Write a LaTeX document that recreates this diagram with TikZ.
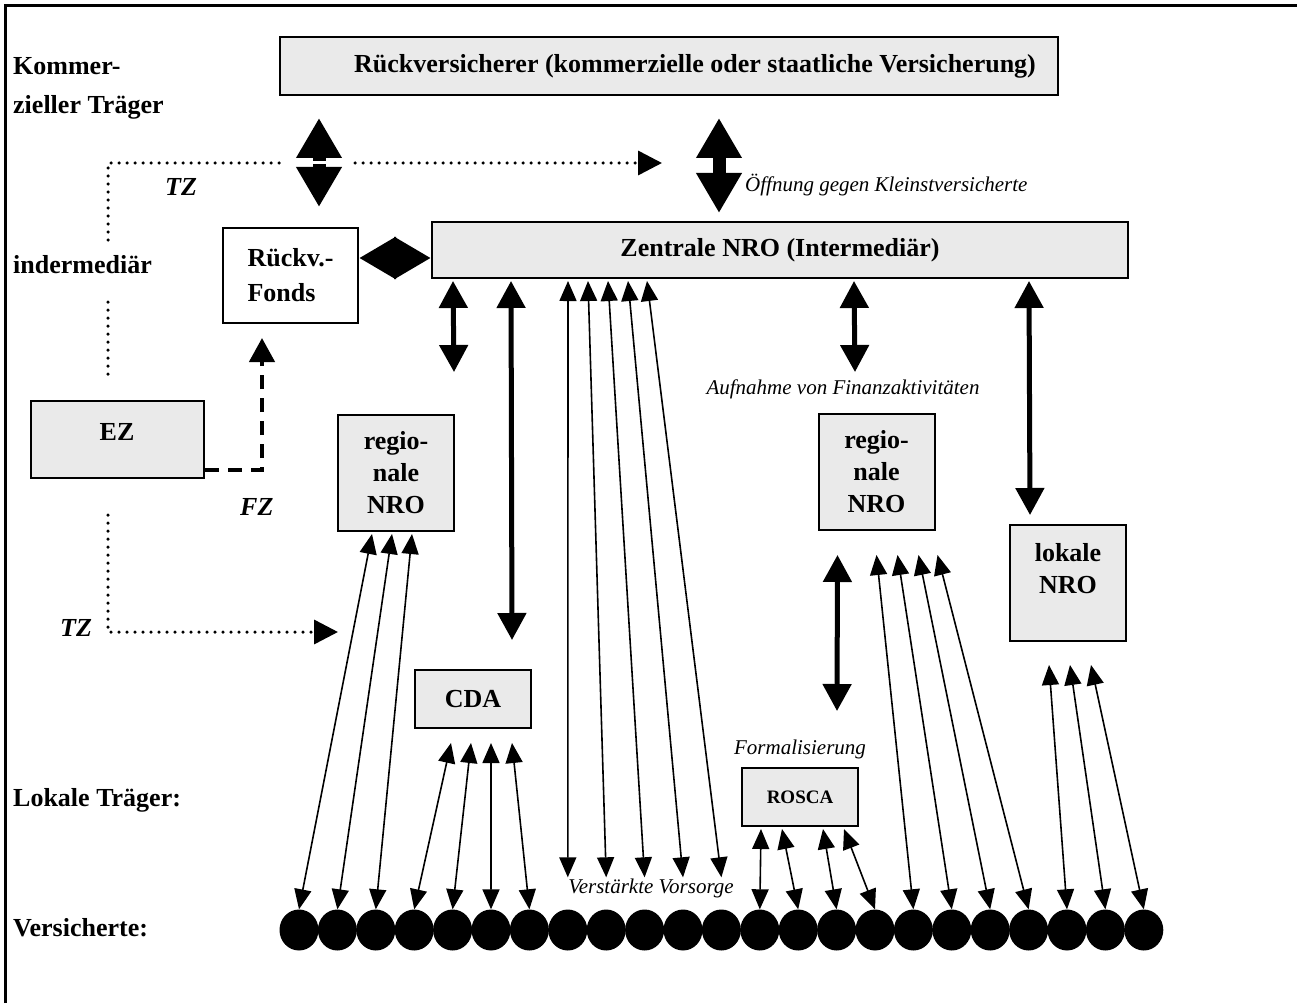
\documentclass[tikz,border=0pt]{standalone}
\usepackage{fontspec}
\setmainfont{Liberation Serif}
\usetikzlibrary{arrows.meta,shapes.geometric}
\definecolor{boxgray}{HTML}{EAEAEA}
\begin{document}
\begin{tikzpicture}[x=1pt,y=-1pt,
  nbox/.style={draw=black, line width=2pt, fill=boxgray, inner sep=0pt, align=center,
    font=\fontsize{26}{32}\selectfont\bfseries},
  lab/.style={font=\fontsize{26}{32}\selectfont\bfseries, inner sep=0pt, anchor=base west},
  btxt/.style={font=\fontsize{26}{32}\selectfont\bfseries, inner sep=0pt, align=center},
  bital/.style={font=\fontsize{26}{32}\selectfont\bfseries\itshape, inner sep=0pt, anchor=base west},
  ital/.style={font=\fontsize{21}{25}\selectfont\itshape, inner sep=0pt, anchor=base},
  circ/.style={ellipse, fill=black, inner sep=0pt, minimum width=39pt, minimum height=41pt},
  thinarr/.style={line width=1.6pt, {Triangle[length=20pt,width=17pt]}-{Triangle[length=20pt,width=17pt]}},
  midarr/.style={line width=5pt, {Triangle[length=27pt,width=28pt]}-{Triangle[length=27pt,width=28pt]}},
  bigarr/.style={line width=13pt, {Triangle[length=40pt,width=43pt]}-{Triangle[length=40pt,width=43pt]}},
  bigharr/.style={line width=13pt, {Triangle[length=37pt,width=40pt]}-{Triangle[length=37pt,width=40pt]}},
  dotline/.style={line width=3.5pt, line cap=round, dash pattern=on 0pt off 8pt},
  dashline/.style={line width=4.5pt, dash pattern=on 14pt off 9pt},
  tiparr/.style={-{Triangle[length=24pt,width=24pt]}}
]
\useasboundingbox (0,0) rectangle (1297,1003);
% frame
\draw[line width=3pt] (5,1003) -- (5,6) -- (1297,6);

% left labels
\node[lab] (kom) at (13,75) {Kommer-};
\node[lab] (zie) at (13,114) {zieller Träger};
\node[lab] (ind) at (13,273) {indermediär};
\node[lab] (lok) at (13,806) {Lokale Träger:};
\node[lab] (ver) at (13,936) {Versicherte:};

% boxes
\node[nbox, minimum width=778pt, minimum height=58pt] (rv) at (669,66) {};
\node[btxt] (rvt) at (695,66) {Rückversicherer (kommerzielle oder staatliche Versicherung)};
\node[nbox, minimum width=696pt, minimum height=56pt] (zen) at (780,250)
  {Zentrale NRO (Intermediär)};
\node[nbox, fill=white, minimum width=135pt, minimum height=95pt, align=left,
  font=\fontsize{26}{35}\selectfont\bfseries] (rf) at (290.5,275.5) {Rückv.-\\Fonds};
\node[nbox, minimum width=173pt, minimum height=77pt] (ez) at (117.5,439.5) {};
\node[lab, anchor=base] (ezt) at (117,440) {EZ};
\node[nbox, minimum width=116pt, minimum height=116pt] (rl) at (396,473) {regio-\\nale\\NRO};
\node[nbox, minimum width=116pt, minimum height=116pt] (rr) at (876.5,472) {regio-\\nale\\NRO};
\node[nbox, minimum width=116pt, minimum height=116pt] (lo) at (1068,583) {};
\node[btxt] (lot) at (1068,569) {lokale\\NRO};
\node[nbox, minimum width=116pt, minimum height=58pt] (cda) at (473,699) {CDA};
\node[nbox, minimum width=116pt, minimum height=58pt, font=\fontsize{19}{23}\selectfont\bfseries] (ros) at (800,797) {ROSCA};

% insured persons
\foreach \i in {0,...,22} \node[circ] (p\i) at ({299+38.4*\i},930) {};

% italic labels
\node[ital, anchor=base west] (off) at (745,191) {Öffnung gegen Kleinstversicherte};
\node[ital] (auf) at (843,394) {Aufnahme von Finanzaktivitäten};
\node[ital] (form) at (800,754) {Formalisierung};
\node[ital] (vv) at (651,893) {Verstärkte Vorsorge};
\node[bital] (tz1) at (165,195) {TZ};
\node[bital] (tz2) at (60,636) {TZ};
\node[bital] (fz) at (240,515) {FZ};

% dotted TZ lines
\coordinate (d1a) at (108,240);
\coordinate (d1b) at (108,163);
\coordinate (d1c) at (283,163);
\coordinate (d1d) at (355,163);
\coordinate (d1e) at (662,163);
\draw[dotline] (d1a) -- (d1b) -- (d1c);
\draw[dotline, tiparr] (d1d) -- (d1e);
\coordinate (d2a) at (108,302);
\coordinate (d2b) at (108,378);
\draw[dotline] (d2a) -- (d2b);
\coordinate (d3a) at (108,515);
\coordinate (d3b) at (108,632);
\coordinate (d3c) at (338,632);
\draw[dotline, tiparr] (d3a) -- (d3b) -- (d3c);

% dashed FZ
\coordinate (fzc) at (262,470);
\coordinate (fze) at (262,338);
\draw[dashline, -{Triangle[length=24pt,width=25pt]}] ([yshift=-30.5pt]ez.east) -- (fzc) -- (fze);

% big arrows
\coordinate (a1t) at (319,118);
\coordinate (a1b) at (319,207);
\draw[bigarr] (a1t) -- (a1b);
\draw[white, line width=3pt] (306,163) -- (332,163);
\coordinate (a2t) at (719,118);
\coordinate (a2b) at (719,213);
\draw[bigarr] (a2t) -- (a2b);
\coordinate (hy) at (0,258);
\draw[bigharr] (rf.east |- hy) -- (zen.west |- hy);

% medium arrows
\coordinate (m1e) at (454,372);
\coordinate (m2e) at (512,640);
\coordinate (m3e) at (855,372);
\coordinate (m4e) at (1030,515);
\draw[midarr] ([xshift=22pt,yshift=-2pt]zen.south west) -- (m1e);
\draw[midarr] ([xshift=80pt,yshift=-2pt]zen.south west) -- (m2e);
\draw[midarr] ([xshift=423pt,yshift=-2pt]zen.south west) -- (m3e);
\draw[midarr] ([xshift=598pt,yshift=-2pt]zen.south west) -- (m4e);
\draw[midarr] ([xshift=20pt,yshift=-24pt]rr.south west) -- ([xshift=96pt,yshift=56pt]ros.north west);

% thin arrows: regionale (left)
\draw[thinarr] ([xshift=35pt,yshift=-2pt]rl.south west) -- (p0.north);
\draw[thinarr] ([xshift=55pt,yshift=-2pt]rl.south west) -- (p1.north);
\draw[thinarr] ([xshift=75pt,yshift=-2pt]rl.south west) -- (p2.north);
% CDA
\draw[thinarr] ([xshift=37pt,yshift=-14pt]cda.south west) -- (p3.north);
\draw[thinarr] ([xshift=57pt,yshift=-14pt]cda.south west) -- (p4.north);
\draw[thinarr] ([xshift=77pt,yshift=-14pt]cda.south west) -- (p5.north);
\draw[thinarr] ([xshift=98pt,yshift=-14pt]cda.south west) -- (p6.north);
% Zentrale
\draw[thinarr] ([xshift=137pt,yshift=-2pt]zen.south west) -- ([yshift=32pt]p7.north);
\draw[thinarr] ([xshift=157pt,yshift=-2pt]zen.south west) -- ([yshift=32pt]p8.north);
\draw[thinarr] ([xshift=177pt,yshift=-2pt]zen.south west) -- ([yshift=32pt]p9.north);
\draw[thinarr] ([xshift=197pt,yshift=-2pt]zen.south west) -- ([yshift=32pt]p10.north);
\draw[thinarr] ([xshift=216pt,yshift=-2pt]zen.south west) -- ([yshift=32pt]p11.north);
% ROSCA
\draw[thinarr] ([xshift=20pt,yshift=-2pt]ros.south west) -- (p12.north);
\draw[thinarr] ([xshift=41pt,yshift=-2pt]ros.south west) -- (p13.north);
\draw[thinarr] ([xshift=82pt,yshift=-2pt]ros.south west) -- (p14.north);
\draw[thinarr] ([xshift=103pt,yshift=-2pt]ros.south west) -- (p15.north);
% regionale (right)
\draw[thinarr] ([xshift=59pt,yshift=-24pt]rr.south west) -- (p16.north);
\draw[thinarr] ([xshift=80pt,yshift=-24pt]rr.south west) -- (p17.north);
\draw[thinarr] ([xshift=101pt,yshift=-24pt]rr.south west) -- (p18.north);
\draw[thinarr] ([xshift=120pt,yshift=-24pt]rr.south west) -- (p19.north);
% lokale
\draw[thinarr] ([xshift=40pt,yshift=-23pt]lo.south west) -- (p20.north);
\draw[thinarr] ([xshift=61pt,yshift=-23pt]lo.south west) -- (p21.north);
\draw[thinarr] ([xshift=82pt,yshift=-23pt]lo.south west) -- (p22.north);
\end{tikzpicture}
\end{document}
